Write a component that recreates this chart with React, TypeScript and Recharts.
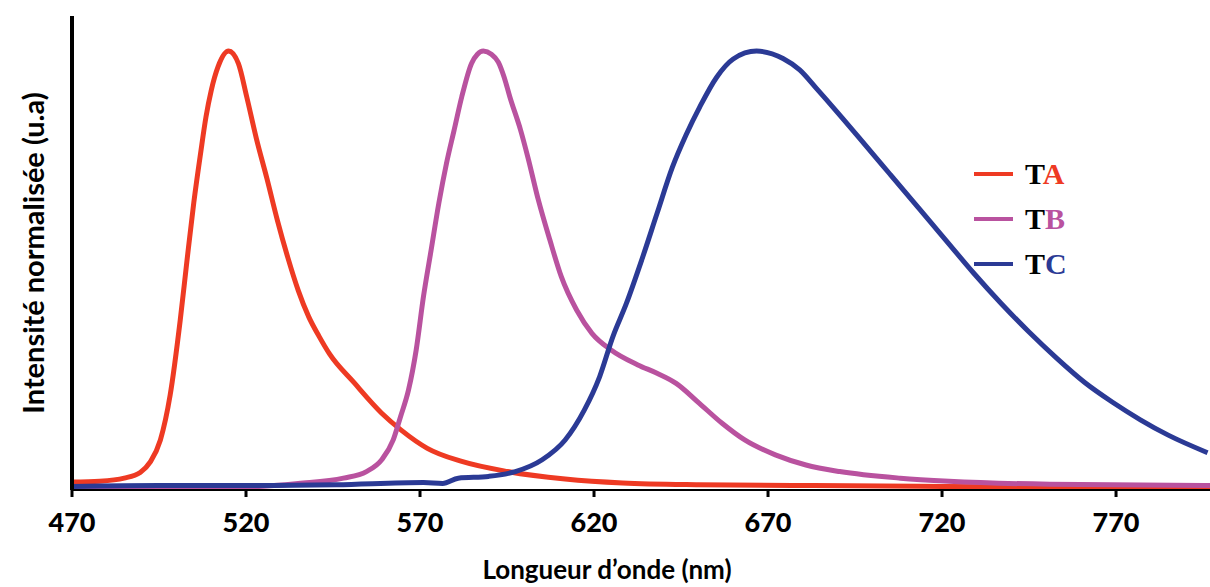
import React from 'react';
import { Label, Line, LineChart, XAxis, YAxis } from 'recharts';

// Normalized emission spectra
const taWavelength = [470, 478, 485, 489.6, 492.5, 495.4, 498.2, 501.1, 503, 505, 507, 508.5, 510, 512, 515, 517.8, 520.2, 523, 526, 529, 532, 535, 538, 541, 544, 551, 559, 564.5, 572.1, 582, 595.2, 611.7, 628.2, 650, 683, 720, 760, 797];
const taIntensity = [0.018, 0.02, 0.027, 0.04, 0.064, 0.114, 0.216, 0.387, 0.52, 0.655, 0.77, 0.85, 0.91, 0.965, 1.0, 0.972, 0.896, 0.8, 0.71, 0.615, 0.53, 0.455, 0.395, 0.35, 0.31, 0.245, 0.175, 0.137, 0.095, 0.065, 0.042, 0.025, 0.016, 0.012, 0.01, 0.008, 0.007, 0.006];

const tbWavelength = [470, 500, 518, 535, 548, 554.6, 559, 562.3, 564.4, 566.7, 568.9, 571, 573.2, 575.4, 577.6, 579.8, 582, 584.8, 586.5, 588.2, 590.5, 592.5, 594.2, 595.8, 598.9, 601, 604, 607.3, 610.6, 615, 619.4, 624.9, 632.6, 638.1, 643.6, 650.2, 656.8, 663.3, 672.1, 680.9, 690.6, 708, 722, 751, 797];
const tbIntensity = [0.005, 0.005, 0.006, 0.015, 0.027, 0.042, 0.069, 0.114, 0.167, 0.228, 0.319, 0.441, 0.547, 0.653, 0.744, 0.82, 0.896, 0.972, 0.993, 1.0, 0.993, 0.975, 0.94, 0.896, 0.82, 0.758, 0.661, 0.57, 0.486, 0.41, 0.357, 0.319, 0.285, 0.266, 0.243, 0.198, 0.152, 0.114, 0.08, 0.057, 0.042, 0.027, 0.02, 0.013, 0.01];

const tcWavelength = [470, 495, 520, 546, 571, 576.5, 581, 589.7, 597.4, 605.1, 611.7, 617.2, 621.6, 625.4, 629.3, 633.7, 638.1, 642.5, 646.5, 650.4, 655.2, 660, 666.7, 674.3, 679.1, 683.9, 690, 697, 705, 713, 721, 729, 737, 745, 753, 761, 769, 777, 785, 796.3];
const tcIntensity = [0.008, 0.01, 0.01, 0.012, 0.017, 0.015, 0.027, 0.031, 0.042, 0.069, 0.114, 0.182, 0.258, 0.349, 0.425, 0.524, 0.63, 0.735, 0.81, 0.873, 0.94, 0.982, 1.0, 0.983, 0.957, 0.915, 0.86, 0.795, 0.72, 0.645, 0.57, 0.495, 0.425, 0.36, 0.3, 0.245, 0.2, 0.16, 0.125, 0.085];

const xTicks = [470, 520, 570, 620, 670, 720, 770];

const SERIES = [
  { key: 'TA', letter: 'A', color: '#EE3A23', x: taWavelength, y: taIntensity },
  { key: 'TB', letter: 'B', color: '#B9529F', x: tbWavelength, y: tbIntensity },
  { key: 'TC', letter: 'C', color: '#2B3A95', x: tcWavelength, y: tcIntensity },
];

const toPoints = (xs: number[], ys: number[]) =>
  xs.map((nm, i) => ({ nm, v: ys[i] }));

const titleFont = { fontFamily: 'Lato, sans-serif', fontWeight: 700, fontSize: 26, fill: '#000' };

export default function App() {
  return (
    <div style={{ position: 'absolute', left: 0, top: 0, width: 1210, height: 587, background: '#fff' }}>
      <LineChart width={1210} height={587} margin={{ top: 16, right: 0, bottom: 0, left: 0 }}>
        <XAxis
          type="number"
          dataKey="nm"
          domain={[470, 797]}
          ticks={xTicks}
          allowDataOverflow
          height={97}
          axisLine={{ stroke: '#000', strokeWidth: 2 }}
          tickLine={{ stroke: '#000', strokeWidth: 3 }}
          tickSize={7}
          tickMargin={16}
          tick={{ fill: '#000', fontFamily: 'Lato, sans-serif', fontWeight: 900, fontSize: 27 }}
        >
          <Label
            content={({ viewBox }: any) => (
              <text x={607} y={viewBox.y + 89} textAnchor="middle" style={titleFont}>
                Longueur d’onde (nm)
              </text>
            )}
          />
        </XAxis>
        <YAxis
          type="number"
          domain={[0, 1.08]}
          allowDataOverflow
          width={72}
          tick={false}
          tickLine={false}
          axisLine={{ stroke: '#000', strokeWidth: 4 }}
        >
          <Label
            content={() => (
              <text
                x={32}
                y={253}
                textAnchor="middle"
                dominantBaseline="central"
                transform="rotate(-90 32 253)"
                style={{ ...titleFont, fontSize: 29 }}
              >
                Intensité normalisée (u.a)
              </text>
            )}
          />
        </YAxis>
        {SERIES.map((s) => (
          <Line
            key={s.key}
            name={s.key}
            data={toPoints(s.x, s.y)}
            dataKey="v"
            type="monotone"
            stroke={s.color}
            strokeWidth={5}
            dot={false}
            isAnimationActive={false}
          />
        ))}
      </LineChart>
      <div style={{ position: 'absolute', left: 974, top: 151 }}>
        {SERIES.map((s) => (
          <div key={s.key} style={{ display: 'flex', alignItems: 'center', height: 45 }}>
            <span style={{ width: 39, height: 4, background: s.color, display: 'inline-block', marginRight: 12 }} />
            <span style={{ fontFamily: '"Liberation Serif", serif', fontWeight: 700, fontSize: 30, lineHeight: '30px' }}>
              T<span style={{ color: s.color }}>{s.letter}</span>
            </span>
          </div>
        ))}
      </div>
    </div>
  );
}
